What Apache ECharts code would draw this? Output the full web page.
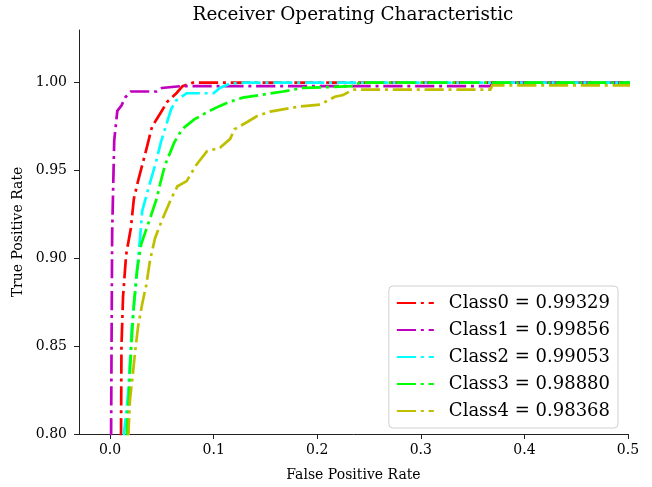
<!DOCTYPE html>
<html>
<head>
<meta charset="utf-8">
<script src="https://cdn.jsdelivr.net/npm/echarts@6/dist/echarts.min.js"></script>
<style>html,body{margin:0;padding:0;background:#fff;}#chart{width:652px;height:487px;}</style>
</head>
<body>
<div id="chart"></div>
<script>
const classNames = ['Class0 = 0.99329','Class1 = 0.99856','Class2 = 0.99053','Class3 = 0.98880','Class4 = 0.98368'];
const colors = ['#ff0000','#bf00bf','#00ffff','#00ff00','#bfbf00'];
const xTicks = [0.0,0.1,0.2,0.3,0.4,0.5];
const yTicks = [0.80,0.85,0.90,0.95,1.00];

const fpr0 = [0.0105,0.0106,0.011,0.0125,0.0155,0.020,0.023,0.027,0.035,0.0405,0.049,0.055,0.064,0.070,0.080,1.0];
const tpr0 = [0.780,0.803,0.850,0.878,0.902,0.917,0.934,0.944,0.962,0.975,0.983,0.989,0.994,0.998,1.000,1.000];

const fpr1 = [0.001,0.001,0.002,0.004,0.007,0.011,0.0145,0.020,0.045,0.050,0.068,0.367,0.370,1.0];
const tpr1 = [0.780,0.802,0.914,0.967,0.984,0.987,0.9915,0.995,0.995,0.997,0.998,0.998,1.000,1.000];

const fpr2 = [0.0133,0.0135,0.0145,0.0174,0.0193,0.021,0.024,0.027,0.029,0.031,0.0376,0.0444,0.049,0.055,0.059,0.064,0.074,0.100,0.106,0.116,0.130,1.0];
const tpr2 = [0.780,0.801,0.806,0.823,0.842,0.861,0.879,0.899,0.912,0.927,0.941,0.955,0.966,0.9775,0.985,0.990,0.994,0.994,0.997,0.9995,1.000,1.000];

const fpr3 = [0.0160,0.0164,0.0183,0.0193,0.021,0.023,0.026,0.030,0.0376,0.045,0.049,0.053,0.062,0.0695,0.081,0.093,0.105,0.115,0.128,0.145,0.167,0.186,0.2345,0.241,1.0];
const tpr3 = [0.780,0.805,0.823,0.837,0.855,0.874,0.893,0.908,0.921,0.934,0.944,0.953,0.966,0.9735,0.979,0.983,0.9865,0.989,0.9915,0.993,0.995,0.997,0.998,1.000,1.000];

const fpr4 = [0.0170,0.018,0.0193,0.022,0.024,0.027,0.031,0.035,0.0386,0.0434,0.047,0.051,0.059,0.065,0.074,0.083,0.0936,0.106,0.116,0.120,0.132,0.142,0.1545,0.183,0.203,0.2075,0.217,0.225,0.2345,0.367,0.369,0.60,1.0];
const tpr4 = [0.780,0.804,0.820,0.834,0.846,0.861,0.874,0.885,0.899,0.9115,0.917,0.923,0.934,0.941,0.944,0.953,0.961,0.963,0.968,0.9735,0.9775,0.981,0.9835,0.9865,0.9875,0.989,0.992,0.993,0.996,0.996,0.9985,0.9985,1.000];

const fprs = [fpr0,fpr1,fpr2,fpr3,fpr4];
const tprs = [tpr0,tpr1,tpr2,tpr3,tpr4];

const FONT = 'DejaVu Serif';
const DASH = [19.2,4.8,3,4.8];
const chart = echarts.init(document.getElementById('chart'), null, {renderer:'canvas'});
const series = classNames.map((name,i)=>({
  name: name,
  type: 'line',
  data: fprs[i].map((x,j)=>[x,tprs[i][j]]),
  showSymbol: false,
  symbol: 'none',
  clip: true,
  color: colors[i],
  itemStyle: {color: colors[i]},
  lineStyle: {color: colors[i], width: 2.7, type: DASH, cap: 'butt', join: 'miter'},
  z: 2+i
}));

chart.setOption({
  animation: false,
  backgroundColor: '#fff',
  graphic: [{
    type: 'text', x: 353, y: 15,
    style: {text: 'Receiver Operating Characteristic', fontFamily: FONT, fontSize: 18.4, fill: '#000',
      align: 'center', verticalAlign: 'middle'}
  }],
  grid: {left: 79, right: 24, top: 30, bottom: 49, containLabel: false},
  xAxis: {
    type: 'value', min: -0.03, max: 0.5,
    name: 'False Positive Rate', nameLocation: 'middle', nameGap: 34,
    nameTextStyle: {fontFamily: FONT, fontSize: 14, color: '#000'},
    axisLine: {show: true, onZero: false, lineStyle: {color: '#222', width: 1}},
    axisTick: {show: true, length: 5, inside: false, customValues: xTicks, lineStyle: {color: '#222'}},
    axisLabel: {customValues: xTicks, fontFamily: FONT, fontSize: 14, color: '#000', margin: 9,
      formatter: v => v.toFixed(1)},
    splitLine: {show: false}
  },
  yAxis: {
    type: 'value', min: 0.8, max: 1.03,
    name: 'True Positive Rate', nameLocation: 'middle', nameGap: 52, nameRotate: 90,
    nameTextStyle: {fontFamily: FONT, fontSize: 14, color: '#000'},
    axisLine: {show: true, onZero: false, lineStyle: {color: '#222', width: 1}},
    axisTick: {show: true, length: 5, inside: false, customValues: yTicks, lineStyle: {color: '#222'}},
    axisLabel: {customValues: yTicks, fontFamily: FONT, fontSize: 14, color: '#000', margin: 12,
      formatter: v => v.toFixed(2)},
    splitLine: {show: false}
  },
  legend: {
    orient: 'vertical', right: 34, bottom: 59,
    backgroundColor: 'rgba(255,255,255,0.8)', borderColor: '#d0d0d0', borderWidth: 1, borderRadius: 4,
    padding: [8, 8, 8, 7],
    itemWidth: 37, itemHeight: 14, itemGap: 9,
    itemStyle: {opacity: 0},
    textStyle: {fontFamily: FONT, fontSize: 18, color: '#000', padding: [0, 0, 0, 10]},
    data: classNames
  },
  series: series
});
</script>
</body>
</html>
